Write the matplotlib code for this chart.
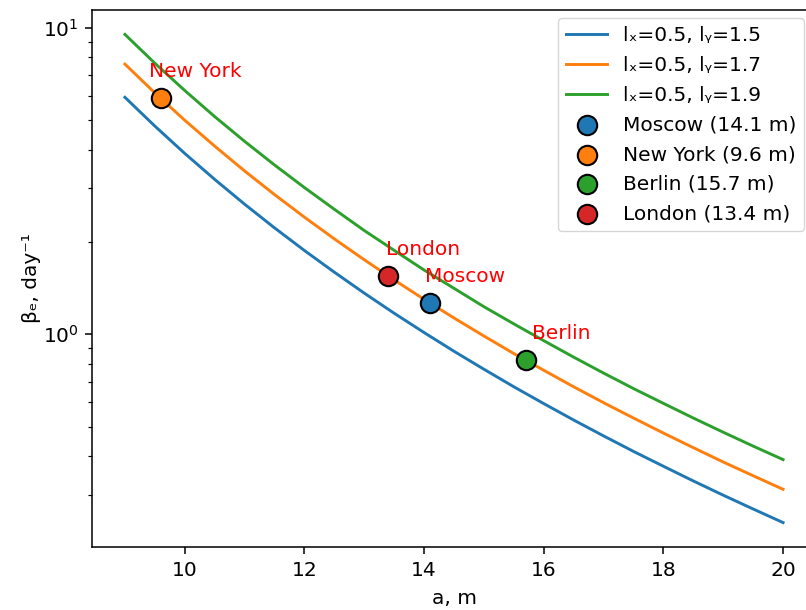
import matplotlib
matplotlib.use("Agg")
import matplotlib.pyplot as plt

a_vals = [9, 9.5, 10, 10.5, 11, 11.5, 12, 12.5, 13, 13.5, 14, 14.5,
          15, 15.5, 16, 16.5, 17, 17.5, 18, 18.5, 19, 19.5, 20]
beta_ly15 = [5.93, 4.777, 3.89, 3.201, 2.657, 2.224, 1.876, 1.594, 1.362, 1.171,
             1.013, 0.880, 0.769, 0.674, 0.594, 0.525, 0.466, 0.4148, 0.371,
             0.3322, 0.2985, 0.2691, 0.243]
beta_ly17 = [7.61, 6.13, 4.99, 4.11, 3.41, 2.856, 2.41, 2.047, 1.75, 1.504,
             1.30, 1.130, 0.987, 0.865, 0.763, 0.674, 0.598, 0.533, 0.476,
             0.4266, 0.383, 0.3455, 0.312]
beta_ly19 = [9.51, 7.66, 6.24, 5.13, 4.26, 3.567, 3.01, 2.557, 2.18, 1.878,
             1.62, 1.412, 1.23, 1.081, 0.953, 0.842, 0.747, 0.665, 0.595,
             0.533, 0.479, 0.4316, 0.390]
curve_labels = ["lₓ=0.5, lᵧ=1.5", "lₓ=0.5, lᵧ=1.7", "lₓ=0.5, lᵧ=1.9"]

cities = ["Moscow", "New York", "Berlin", "London"]
city_a = [14.1, 9.6, 15.7, 13.4]
city_beta = [1.263, 5.88, 0.822, 1.549]
city_colors = ["#1f77b4", "#ff7f0e", "#2ca02c", "#d62728"]

FS = 14.5
plt.rcParams.update({
    "font.size": FS,
    "lines.linewidth": 2.1,
    "axes.linewidth": 1.1,
    "xtick.major.size": 4.9, "ytick.major.size": 4.9,
    "xtick.minor.size": 2.8, "ytick.minor.size": 2.8,
    "xtick.major.width": 1.1, "ytick.major.width": 1.1,
    "xtick.minor.width": 0.85, "ytick.minor.width": 0.85,
    "xtick.major.pad": 4.9, "ytick.major.pad": 4.9,
})

fig = plt.figure(figsize=(8.06, 6.10), dpi=100)
ax = fig.add_axes([92 / 806, 63 / 610, 724 / 806, 537 / 610])

for vals, lab in zip([beta_ly15, beta_ly17, beta_ly19], curve_labels):
    ax.plot(a_vals, vals, label=lab)

for name, a, b, c in zip(cities, city_a, city_beta, city_colors):
    ax.scatter([a], [b], s=195, color=c, edgecolors="black", linewidths=1.5,
               zorder=5, label=f"{name} ({a} m)")
    ax.annotate(name, (a, b), xytext=(35, 21), textcoords="offset pixels",
                ha="center", va="baseline", color="red", fontsize=FS)

ax.set_yscale("log")
ax.set_xlabel("a, m", labelpad=6.5)
ax.set_ylabel("βₑ, day⁻¹", labelpad=1.5)
ax.legend(loc="upper right", fontsize=FS, borderaxespad=0, labelspacing=0.53,
          bbox_to_anchor=(804.3 / 806, 1 - 18.3 / 610),
          bbox_transform=fig.transFigure)

fig.savefig("out.png", dpi=100)
